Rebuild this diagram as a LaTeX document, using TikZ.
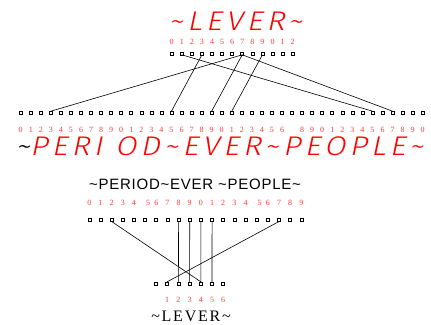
\documentclass[tikz,border=0pt]{standalone}
\usepackage{fontspec}
\usepackage{xcolor}
\setmainfont{Liberation Serif}
\setsansfont{Liberation Sans}
\newfontfamily\spacedsans[LetterSpace=15,FakeSlant=0.21,FakeStretch=1.14]{Fira Sans Light}
\newfontfamily\loosesans[LetterSpace=5]{Liberation Sans}
\newfontfamily\looseserif[LetterSpace=11]{Liberation Serif}
\definecolor{digitred}{RGB}{255,55,55}

\begin{document}
\begin{tikzpicture}[
    x=1pt, y=-1pt,
    slot/.style={rectangle, draw, line width=0.6pt, minimum size=3pt,
                 inner sep=0pt, outer sep=0pt},
    idx/.style={font=\fontsize{8}{9}\selectfont, text=digitred, anchor=base,
                inner sep=0pt},
    bigword/.style={font=\spacedsans\fontsize{27}{30}\selectfont,
                    text=red, anchor=base, inner sep=0pt},
    link/.style={line width=0.6pt}
  ]
    \useasboundingbox (0,0) rectangle (431,324);

    % first string and its slots
    \node[bigword] (bigtop) at (235.5,30) {\textasciitilde LEVER\textasciitilde};
    \foreach \k in {0,...,12} {
      \pgfmathtruncatemacro\d{mod(\k,10)}
      \node[slot] (t\k) at ({171.7+10.08*\k},53.3) {};
      \node[idx] (td\k) at ({171.7+10.08*\k},44.3) {\d};
    }

    % second string and its slots
    \foreach \k in {0,...,40} {
      \pgfmathtruncatemacro\d{mod(\k,10)}
      \node[slot] (b\k) at ({20.7+10.05*\k},112.7) {};
      \ifnum\k=27\else
        \node[idx] (bd\k) at ({20.7+10.05*\k},132.3) {\d};
      \fi
    }
    \node[bigword] (bigmid) at (219.5,155)
      {\textcolor{black}{\textasciitilde}PERI OD\textasciitilde EVER\textasciitilde PEOPLE\textasciitilde};

    % third string
    \node[font=\loosesans\fontsize{15}{18}\selectfont, anchor=base, inner sep=0pt]
      (midtext) at (195,189.3) {\textasciitilde PERIOD\textasciitilde EVER \textasciitilde PEOPLE\textasciitilde};
    \foreach \k in {0,...,19} {
      \pgfmathtruncatemacro\d{mod(\k,10)}
      \node[slot] (m\k) at ({89.3+11.16*\k},220) {};
      \ifnum\d=5
        \node[idx] (md\k) at ({92.3+11.16*\k},205.7) {\d};
      \else
        \node[idx] (md\k) at ({89.3+11.16*\k},205.7) {\d};
      \fi
    }

    % fourth string
    \foreach \k in {0,...,6} {
      \node[slot] (l\k) at ({156+11.2*\k},283.3) {};
    }
    \foreach \k in {1,...,6} {
      \node[idx] (ld\k) at ({156+11.2*\k},302.7) {\k};
    }
    \node[font=\looseserif\fontsize{16}{19}\selectfont, anchor=base, inner sep=0pt]
      (bottext) at (191,321.7) {\textasciitilde LEVER\textasciitilde};

    \draw[link] (t1.south) -- (b35.north);
    \draw[link] (t3.south) -- (b15.north);
    \draw[link] (t7.south) -- (b3.north);
    \draw[link] (t7.south) -- (b19.north);
    \draw[link] (t7.south) -- (b37.north);
    \draw[link] (t9.south) -- (b21.north);

    \draw[link] (m2.south) -- (l4.north);
    \draw[link] (m8.south) -- (l2.north);
    \draw[link] (m9.south) -- (l3.north);
    \draw[link] (m10.south) -- (l4.north);
    \draw[link] (m11.south) -- (l5.north);
    \draw[link] (m17.south) -- (l1.north);
  \end{tikzpicture}
\end{document}
